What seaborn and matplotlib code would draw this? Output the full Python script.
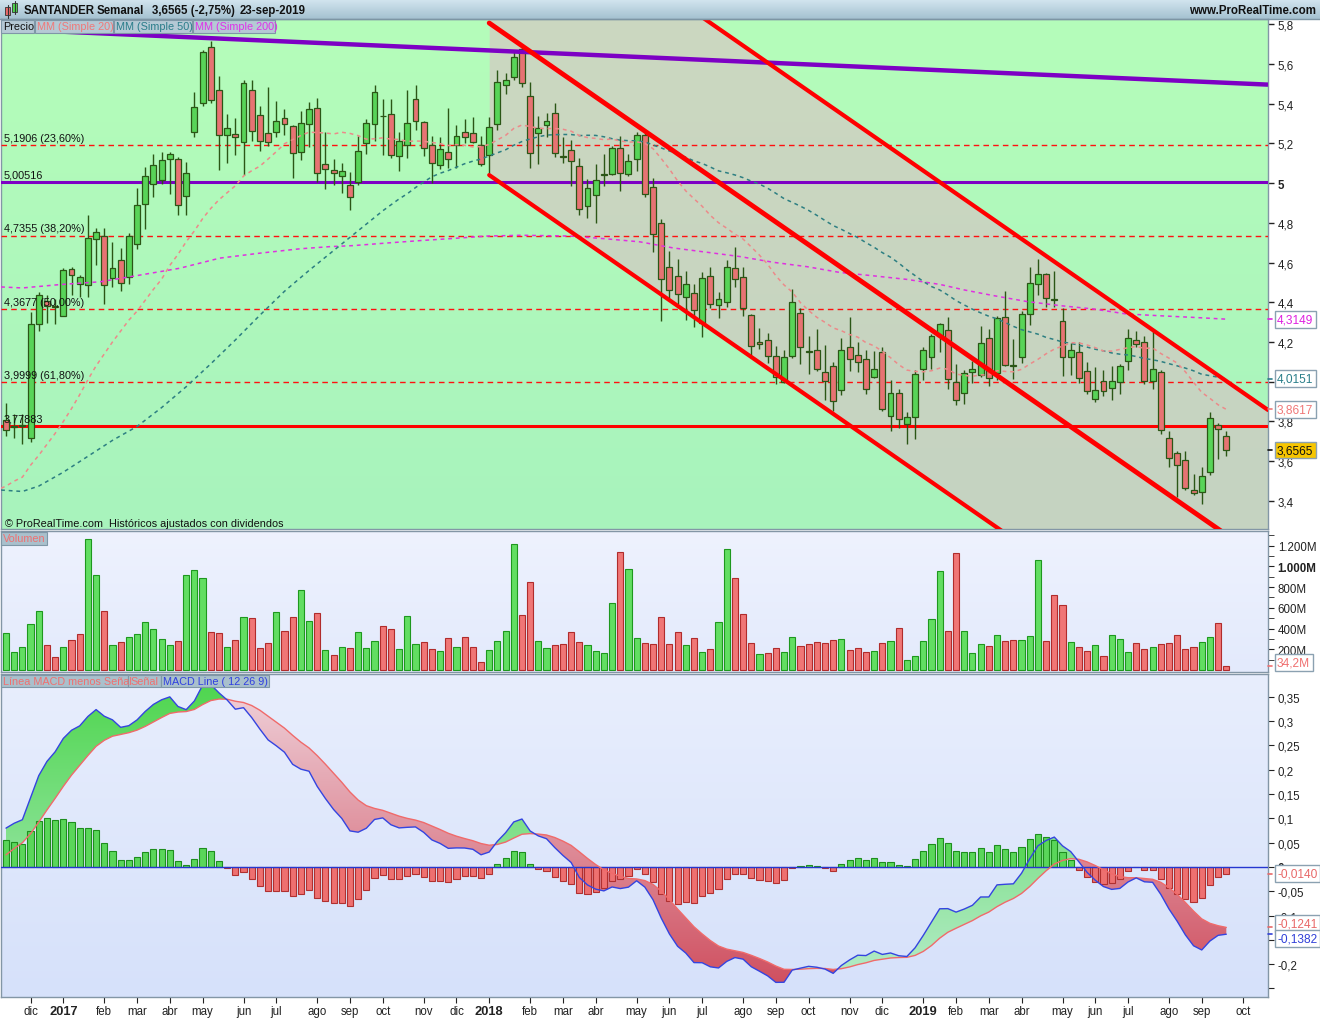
import numpy as np
import pandas as pd
import matplotlib
matplotlib.use("Agg")
import matplotlib.pyplot as plt
import matplotlib.transforms as mtransforms
from matplotlib.colors import LinearSegmentedColormap
from matplotlib.path import Path
from matplotlib.patches import Rectangle
from matplotlib.lines import Line2D
import seaborn as sns

sns.set_style("white")
plt.rcParams["font.family"] = ["Liberation Sans", "DejaVu Sans"]

# ------------------------------------------------------------------ data
first_week = "2016-11-14"
opens = [3.808,3.770,3.775,3.719,4.290,4.405,4.378,4.332,4.566,4.492,
 4.489,4.719,4.733,4.520,4.612,4.528,4.695,4.894,4.996,5.013,
 5.121,5.121,4.933,5.257,5.402,5.683,5.468,5.242,5.247,5.204,
 5.468,5.342,5.252,5.257,5.327,5.286,5.155,5.296,5.378,5.095,
 5.065,5.034,4.991,5.005,5.201,5.296,5.337,5.347,5.136,5.191,
 5.422,5.306,5.191,5.090,5.155,5.191,5.257,5.252,5.191,5.141,
 5.296,5.494,5.533,5.673,5.437,5.252,5.291,5.352,5.133,5.165,
 5.085,4.884,4.939,5.040,5.044,5.175,5.044,5.121,5.242,4.979,
 4.797,4.576,4.532,4.428,4.445,4.298,4.532,4.385,4.400,4.571,
 4.526,4.336,4.199,4.208,4.128,4.000,4.128,4.344,4.155,4.159,
 4.051,4.077,3.961,4.174,4.133,4.113,4.022,4.148,3.830,3.941,
 3.787,3.821,4.063,4.123,4.230,4.259,3.997,3.941,4.048,4.034,
 4.218,4.043,4.324,4.085,4.123,4.339,4.491,4.540,4.412,4.308,
 4.123,4.152,4.055,3.915,4.002,3.971,3.997,4.102,4.208,4.198,
 4.002,4.051,3.719,3.644,3.608,3.455,3.447,3.544,3.784,3.728]
highs = [3.893,3.838,3.838,4.349,4.451,4.434,4.417,4.571,4.576,4.537,
 4.840,4.775,4.772,4.704,4.673,4.750,4.976,5.082,5.146,5.158,
 5.158,5.133,5.107,5.456,5.668,5.712,5.538,5.349,5.325,5.516,
 5.516,5.388,5.483,5.414,5.374,5.294,5.363,5.409,5.429,5.255,
 5.121,5.099,5.056,5.235,5.323,5.494,5.422,5.422,5.257,5.470,
 5.494,5.311,5.235,5.231,5.378,5.293,5.323,5.334,5.238,5.334,
 5.570,5.555,5.664,5.695,5.507,5.337,5.354,5.402,5.231,5.218,
 5.124,5.022,5.094,5.145,5.184,5.238,5.146,5.255,5.260,5.025,
 4.818,4.656,4.618,4.557,4.494,4.550,4.576,4.451,4.612,4.676,
 4.576,4.341,4.269,4.247,4.179,4.159,4.465,4.370,4.230,4.264,
 4.184,4.097,4.218,4.324,4.199,4.159,4.154,4.174,4.009,3.966,
 3.847,4.060,4.176,4.239,4.298,4.324,4.089,4.060,4.102,4.278,
 4.264,4.332,4.455,4.213,4.358,4.576,4.617,4.545,4.557,4.370,
 4.193,4.199,4.097,4.073,4.060,4.080,4.091,4.264,4.256,4.230,
 4.261,4.060,3.750,3.651,3.651,3.535,3.571,3.847,3.790,3.750]
lows = [3.728,3.719,3.685,3.699,4.256,4.295,4.290,4.330,4.434,4.426,
 4.426,4.588,4.392,4.477,4.455,4.494,4.670,4.767,4.928,4.996,
 4.945,4.838,4.838,5.231,5.388,5.402,5.065,5.099,5.141,5.039,
 5.213,5.162,5.184,5.231,5.243,5.027,5.116,5.180,5.005,4.968,
 4.988,4.949,4.864,4.988,5.146,5.209,5.141,5.124,5.058,5.124,
 5.269,5.138,5.000,5.068,5.073,5.073,5.201,5.201,5.085,5.048,
 5.269,5.448,5.516,5.482,5.078,5.094,5.231,5.133,5.099,4.985,
 4.838,4.823,4.797,4.985,5.040,4.959,5.034,5.058,4.928,4.652,
 4.307,4.421,4.392,4.312,4.273,4.227,4.370,4.322,4.375,4.477,
 4.332,4.131,4.167,4.094,3.987,3.995,4.119,4.091,4.038,4.055,
 3.907,3.852,3.932,4.056,4.051,3.936,4.017,3.852,3.750,3.765,
 3.685,3.714,4.009,4.063,4.148,3.966,3.884,3.889,3.992,4.026,
 3.978,4.009,4.077,4.014,4.094,4.288,4.434,4.375,4.375,4.029,
 4.034,3.995,3.937,3.898,3.927,3.907,3.937,4.060,4.174,3.987,
 3.966,3.736,3.569,3.421,3.455,3.430,3.384,3.532,3.613,3.625]
closes = [3.757,3.775,3.780,4.293,4.434,4.383,4.375,4.560,4.537,4.526,
 4.721,4.753,4.489,4.574,4.497,4.733,4.889,5.034,5.090,5.116,
 5.146,4.889,5.049,5.383,5.661,5.417,5.242,5.276,5.231,5.504,
 5.264,5.211,5.206,5.310,5.298,5.150,5.300,5.373,5.051,5.070,
 5.051,5.060,4.932,5.162,5.301,5.458,5.335,5.141,5.211,5.301,
 5.311,5.175,5.100,5.170,5.121,5.237,5.231,5.206,5.095,5.281,
 5.507,5.518,5.633,5.504,5.150,5.276,5.311,5.150,5.130,5.111,
 4.869,4.974,5.013,5.046,5.175,5.049,5.111,5.242,4.945,4.741,
 4.516,4.460,4.443,4.494,4.360,4.521,4.390,4.414,4.576,4.516,
 4.370,4.179,4.188,4.128,4.022,4.123,4.400,4.174,4.152,4.063,
 4.004,3.901,4.159,4.114,4.097,3.966,4.063,3.861,3.941,3.815,
 3.825,4.038,4.159,4.230,4.290,4.012,3.907,4.043,4.065,4.193,
 4.017,4.319,4.085,4.080,4.339,4.496,4.540,4.422,4.410,4.123,
 4.159,4.017,3.952,3.961,3.952,4.002,4.077,4.218,4.188,4.002,
 4.063,3.758,3.617,3.583,3.464,3.438,3.527,3.818,3.762,3.6565]
volumes_m = [354,170,219,440,566,238,122,219,286,344,
 1260,913,566,238,267,315,344,460,392,296,
 238,277,913,961,884,363,354,219,286,508,
 498,209,257,556,373,508,768,469,547,190,
 141,219,209,363,209,277,421,392,199,518,
 248,267,199,180,305,219,315,219,74,190,
 277,373,1212,527,846,277,209,238,248,363,
 267,238,180,161,643,1135,971,305,257,248,
 508,248,363,238,305,170,199,460,1164,884,
 537,257,151,161,209,170,315,228,248,267,
 257,286,296,190,209,170,180,257,277,402,
 93,132,277,489,952,373,1125,373,161,248,
 228,334,277,286,286,325,1058,277,720,624,
 267,219,180,238,132,334,296,170,257,199,
 219,248,257,334,199,219,267,315,450,34.2]

ma20_early_idx = [-0.6,0,1,2,3,4,5,6,7,8,9,10,11,12,13,14,15,16,17,18]
ma20_early_val = [3.464,3.475,3.50,3.52,3.58,3.63,3.685,3.74,3.80,3.865,3.935,
                  4.01,4.08,4.14,4.20,4.255,4.31,4.355,4.41,4.465]
ma50_early_idx = [-0.6,2,4,7,10,13,16,19,22,25,28,31,34,37,40,43,46,48]
ma50_early_val = [3.455,3.448,3.475,3.545,3.625,3.705,3.775,3.87,3.975,4.09,
                  4.21,4.335,4.455,4.56,4.66,4.76,4.86,4.92]
ma200_idx = [-0.6,2,6.6,11.5,16.4,21.2,26.1,31,35.9,39.6,42.4,46.5,50.5,54.6,58.7,
             63,68.9,73,77.4,81.5,85.5,89.6,93.7,97.8,101.8,105.9,110,114,117,
             120.5,124.6,128.7,132.8,136.8,140.9,144.9,149]
ma200_val = [4.477,4.472,4.489,4.503,4.537,4.571,4.622,4.647,4.669,4.680,4.685,
             4.698,4.710,4.721,4.733,4.737,4.733,4.72,4.704,4.673,4.652,4.630,
             4.601,4.579,4.550,4.533,4.515,4.49,4.462,4.434,4.404,4.383,4.366,
             4.341,4.332,4.324,4.3149]
macd_seed_ema12, macd_seed_ema26, macd_seed_signal = 3.575, 3.495, 0.025

fib_levels = [5.1906, 4.7355, 4.3677, 3.9999]
fib_labels = ["5,1906 (23,60%)", "4,7355 (38,20%)", "4,3677 (50,00%)", "3,9999 (61,80%)"]
resist_level, resist_label = 5.00516, "5,00516"
support_level, support_label = 3.77883, "3,77883"
trend_x, trend_y = [-0.61, 154.09], [5.775, 5.495]
chan_x = [59, 154.09]
chan_lower = [5.040, 2.320]
chan_mid = [5.805, 3.085]
chan_upper = [6.578, 3.858]

price_ticks = [3.4,3.6,3.8,4.0,4.2,4.4,4.6,4.8,5.0,5.2,5.4,5.6,5.8]
price_tick_labels = ["3,4","3,6","3,8","","4,2","4,4","4,6","4,8","5","5,2","5,4","5,6","5,8"]
vol_ticks = [200,400,600,800,1000,1200]
vol_tick_labels = ["200M","400M","600M","800M","1.000M","1.200M"]
macd_ticks = [-0.25,-0.2,-0.15,-0.1,-0.05,0,0.05,0.1,0.15,0.2,0.25,0.3,0.35]
macd_tick_labels = ["","-0,2","","-0,1","-0,05","0","0,05","0,1","0,15","0,2","0,25","0,3","0,35"]
month_names = ["ene","feb","mar","abr","may","jun","jul","ago","sep","oct","nov","dic"]

price_boxes = [(4.3149, "4,3149", "#e020e0", "white"),
               (4.0151, "4,0151", "#2a7f8a", "white"),
               (3.8617, "3,8617", "#f07878", "white"),
               (3.6565, "3,6565", "#111111", "#f7c600")]
macd_boxes = [(-0.0140, "-0,0140", "#e86868", 0),
              (-0.1241, "-0,1241", "#e86868", 3),
              (-0.1382, "-0,1382", "#3040d8", -3)]
vol_box = (34.2, "34,2M")

# ------------------------------------------------------------ derived
O = np.array(opens); Hh = np.array(highs); L = np.array(lows); C = np.array(closes)
V = np.array(volumes_m)
n = len(C)
idx = np.arange(n)
dates = pd.date_range(first_week, periods=n, freq="W-MON")
df = pd.DataFrame({"i": idx, "date": dates, "open": O, "high": Hh, "low": L,
                   "close": C, "volume": V})

ma20 = df["close"].rolling(20).mean().to_numpy()
ma50 = df["close"].rolling(50).mean().to_numpy()
ma20_x = np.r_[ma20_early_idx, idx[19:]]
ma20_y = np.r_[ma20_early_val, ma20[19:]]
ma50_x = np.r_[ma50_early_idx, idx[49:]]
ma50_y = np.r_[ma50_early_val, ma50[49:]]


def ema(x, span, seed):
    a = 2.0 / (span + 1)
    out = np.empty(len(x))
    out[0] = seed
    for k in range(1, len(x)):
        out[k] = a * x[k] + (1 - a) * out[k - 1]
    return out


macd = ema(C, 12, macd_seed_ema12) - ema(C, 26, macd_seed_ema26)
signal = ema(macd, 9, macd_seed_signal)
hist = macd - signal
vol_up = np.r_[True, C[1:] >= C[:-1]]

# ------------------------------------------------------------ figure
W, H = 1320, 1020
fig = plt.figure(figsize=(W / 100, H / 100), dpi=100)
fig.patch.set_facecolor("white")


def frect(x0, y0, x1, y1):
    return [x0 / W, 1 - y1 / H, (x1 - x0) / W, (y1 - y0) / H]


def fx(x):
    return x / W


def fy(y):
    return 1 - y / H


def vgrad(ax, top, bottom, z=-20):
    cmap = LinearSegmentedColormap.from_list("g", [bottom, top])
    ax.imshow(np.linspace(0, 1, 200).reshape(-1, 1), cmap=cmap, aspect="auto",
              extent=(0, 1, 0, 1), origin="lower", transform=ax.transAxes,
              zorder=z, interpolation="bilinear")


XL = (-0.6105, 154.09)
SPINE = "#8396a6"

ax_h = fig.add_axes(frect(0, 0, 1320, 20))
ax_p = fig.add_axes(frect(1, 20, 1268, 530))
ax_v = fig.add_axes(frect(1, 532, 1268, 673))
ax_m = fig.add_axes(frect(1, 675, 1268, 998))

# header
vgrad(ax_h, "#d4e6f0", "#a4c1d0")
ax_h.set_xlim(0, 1); ax_h.set_ylim(0, 1)
ax_h.set_axis_off()
fig.add_artist(Line2D([0, 1], [fy(20), fy(20)], transform=fig.transFigure, color="#7d95a4", lw=1))
fig.add_artist(Line2D([fx(7.5), fx(7.5)], [fy(19), fy(6)], transform=fig.transFigure, color="#333", lw=0.8))
fig.add_artist(Rectangle((fx(5), fy(16)), 5 / W, 8 / H, transform=fig.transFigure, fc="#e86868", ec="#333", lw=0.6))
fig.add_artist(Line2D([fx(14.5), fx(14.5)], [fy(15), fy(2)], transform=fig.transFigure, color="#333", lw=0.8))
fig.add_artist(Rectangle((fx(12), fy(13)), 5 / W, 9 / H, transform=fig.transFigure, fc="#4cd44c", ec="#333", lw=0.6))
hdr = dict(fontsize=8.3, fontweight="bold", va="center", color="#111111")
fig.text(fx(24), fy(11), "SANTANDER", **hdr)
fig.text(fx(97), fy(11), "Semanal", **hdr)
fig.text(fx(152), fy(11), "3,6565 (-2,75%)", **hdr)
fig.text(fx(240), fy(11), "23-sep-2019", **hdr)
fig.text(fx(1316), fy(11), "www.ProRealTime.com", ha="right", **hdr)

# ------------------------------------------------------------ price panel
vgrad(ax_p, "#b5fdba", "#a8f3bd")
xs = np.linspace(chan_x[0], chan_x[1], 400)
ax_p.fill_between(xs, np.interp(xs, chan_x, chan_lower), np.interp(xs, chan_x, chan_upper),
                  color="#e2b4c6", alpha=0.5, lw=0, zorder=-5)

for lvl in fib_levels:
    ax_p.axhline(lvl, color="#ff1010", lw=1, ls=(0, (4, 3)), zorder=3)
ax_p.axhline(resist_level, color="#7d00c4", lw=2.2, zorder=3)
ax_p.axhline(support_level, color="#ff0000", lw=2.2, zorder=3)

trans_p = mtransforms.blended_transform_factory(ax_p.transAxes, ax_p.transData)
for lvl, lab in list(zip(fib_levels, fib_labels)) + [(resist_level, resist_label), (support_level, support_label)]:
    ax_p.annotate(lab, xy=(0, lvl), xycoords=trans_p, xytext=(2, 1.5), textcoords="offset points",
                  fontsize=7.8, color="#111111", va="bottom", ha="left", zorder=12)

# candles
edge = "#2b5616"
up = C >= O
body_lo = np.minimum(O, C)
body_h = np.maximum(np.abs(C - O), 0.004)
ax_p.vlines(idx, L, Hh, color=edge, lw=1, zorder=6)
ax_p.bar(idx, body_h, bottom=body_lo, width=0.72,
         color=np.where(up, "#58d458", "#e77373"), edgecolor=edge, lw=0.9, zorder=7)

# moving averages
for xx, yy, col in [(ma200_idx, ma200_val, "#e030e0"), (ma50_x, ma50_y, "#2d7f82"), (ma20_x, ma20_y, "#ec8a8a")]:
    sns.lineplot(x=np.asarray(xx, float), y=np.asarray(yy, float), ax=ax_p, color=col,
                 lw=1.1, legend=False, sort=False, estimator=None, zorder=9)
    ax_p.lines[-1].set_dashes([2.5, 2.5])

# trend / channel lines
ax_p.plot(trend_x, trend_y, color="#7d00c4", lw=3.2, zorder=10, solid_capstyle="butt")
ax_p.plot(chan_x, chan_lower, color="#ff0000", lw=3, zorder=10)
ax_p.plot(chan_x, chan_mid, color="#ff0000", lw=3.5, zorder=10)
ax_p.plot(chan_x, chan_upper, color="#ff0000", lw=3, zorder=10)

ax_p.set_xlim(*XL)
ax_p.set_ylim(3.2591, 5.8252)
ax_p.yaxis.tick_right()
ax_p.set_yticks(price_ticks, labels=price_tick_labels)
ax_p.tick_params(axis="y", which="both", right=True, left=False, direction="out", length=4,
                 width=1, pad=3, labelsize=8.3, colors="#222222")
ax_p.tick_params(axis="x", bottom=False, labelbottom=False)
for lbl in ax_p.get_yticklabels():
    if lbl.get_text() == "5":
        lbl.set_fontweight("bold")
ax_p.text(0.003, 3.29, "\u00a9 ProRealTime.com  Históricos ajustados con dividendos",
          transform=trans_p, fontsize=7.8, color="#111111", va="center", zorder=12)


def value_box(ax, y, text, color, fc="white", dy=0):
    tr = mtransforms.blended_transform_factory(ax.transAxes, ax.transData)
    ax.plot([1.0, 1.0 + 4 / 1267], [y, y], transform=tr, color=color, lw=1.2, clip_on=False, zorder=19)
    ax.annotate(text, xy=(1.0, y), xycoords=tr, xytext=(6.5, dy), textcoords="offset points",
                va="center", ha="left", fontsize=8.6, color=color, annotation_clip=False,
                bbox=dict(boxstyle="square,pad=0.2", fc=fc, ec="#8ba1b1", lw=1), zorder=20)


for y, t, c, fc in price_boxes:
    value_box(ax_p, y, t, c, fc)


def lbox(x0, x1, y0, y1, text, color, fc="#b5c9d5"):
    fig.add_artist(Rectangle((fx(x0), fy(y1)), (x1 - x0) / W, (y1 - y0) / H,
                             transform=fig.transFigure, fc=fc, ec="#7f97a7", lw=0.8, zorder=30))
    fig.text(fx(x0 + 2), fy((y0 + y1) / 2), text, fontsize=7.8, color=color, va="center",
             ha="left", zorder=31)


lbox(1, 34, 21, 34, "Precio", "#111111")
lbox(35, 113, 21, 34, "MM (Simple 20)", "#f07878")
lbox(114, 192, 21, 34, "MM (Simple 50)", "#2a7d8a")
lbox(193, 275, 21, 34, "MM (Simple 200)", "#e030e8")

# ------------------------------------------------------------ volume panel
vgrad(ax_v, "#eef2fe", "#e3eafc")
ax_v.bar(idx, V, width=0.75, color=np.where(vol_up, "#62de62", "#f07676"),
         edgecolor=np.where(vol_up, "#1e981e", "#b02c2c"), lw=0.8, zorder=3)
ax_v.set_xlim(*XL)
ax_v.set_ylim(-19.3, 1341.7)
ax_v.yaxis.tick_right()
ax_v.set_yticks(vol_ticks, labels=vol_tick_labels)
ax_v.set_yticks([100, 300, 500, 700, 900, 1100, 1300], minor=True)
ax_v.tick_params(axis="y", which="both", right=True, left=False, direction="out", length=4,
                 pad=3, labelsize=8.3, colors="#222222")
ax_v.tick_params(axis="x", bottom=False, labelbottom=False)
for lbl in ax_v.get_yticklabels():
    if lbl.get_text() == "1.000M":
        lbl.set_fontweight("bold")
value_box(ax_v, vol_box[0], vol_box[1], "#f07070", dy=3)
lbox(1, 47, 533, 546, "Volumen", "#f07070", fc="#a9c0cc")

# ------------------------------------------------------------ MACD panel
vgrad(ax_m, "#e8eefd", "#d6e1fa")


def grad_fill(ax, x, y1, y2, where, c_low, c_high, vlo, vhi, z):
    coll = ax.fill_between(x, y1, y2, where=where, interpolate=True, facecolor="none", edgecolor="none")
    paths = [p for p in coll.get_paths() if len(p.vertices) > 2]
    coll.remove()
    if not paths:
        return
    comp = Path.make_compound_path(*paths)
    cmap = LinearSegmentedColormap.from_list("f", [c_low, c_high])
    im = ax.imshow(np.linspace(0, 1, 256).reshape(-1, 1), cmap=cmap, aspect="auto", origin="lower",
                   extent=(x[0], x[-1], vlo, vhi), zorder=z, interpolation="bilinear")
    im.set_clip_path(comp, transform=ax.transData)


grad_fill(ax_m, idx.astype(float), macd, signal, macd >= signal, "#b2ebc6", "#50d650", -0.22, 0.37, 1)
grad_fill(ax_m, idx.astype(float), macd, signal, macd <= signal, "#cf4e5e", "#eecdd6", -0.25, 0.35, 1)

ax_m.bar(idx, hist, width=0.75, color=np.where(hist >= 0, "#5ad65a", "#ee7070"),
         edgecolor=np.where(hist >= 0, "#1e8e1e", "#b03030"), lw=0.8, zorder=2)
ax_m.axhline(0, color="#2536d0", lw=1, zorder=3)
sns.lineplot(x=idx, y=signal, ax=ax_m, color="#f06a6a", lw=1, legend=False, zorder=4)
sns.lineplot(x=idx, y=macd, ax=ax_m, color="#3444e0", lw=1, legend=False, zorder=5)

ax_m.set_xlim(*XL)
ax_m.set_ylim(-0.2675, 0.3971)
ax_m.yaxis.tick_right()
ax_m.set_yticks(macd_ticks, labels=macd_tick_labels)
ax_m.tick_params(axis="y", which="both", right=True, left=False, direction="out", length=4,
                 pad=3, labelsize=8.3, colors="#222222")
for lbl in ax_m.get_yticklabels():
    if lbl.get_text() == "0":
        lbl.set_fontweight("bold")
for y, t, c, d in macd_boxes:
    value_box(ax_m, y, t, c, dy=d)

lbox(1, 128, 676, 688, "Línea MACD menos Señal", "#f07070", fc="#a9c0cc")
lbox(128, 161, 676, 688, "Señal", "#f07070", fc="#a9c0cc")
lbox(161, 269, 676, 688, "MACD Line ( 12 26 9)", "#3040e0", fc="#a9c0cc")

# month ticks (first weekly bar of each month)
months = pd.date_range("2016-12-01", "2019-10-01", freq="MS")
tick_pos, tick_lab = [], []
for m in months:
    fm = m + pd.Timedelta(days=(7 - m.weekday()) % 7)
    tick_pos.append((fm - dates[0]).days / 7.0)
    tick_lab.append(str(m.year) if m.month == 1 else month_names[m.month - 1])
ax_m.set_xticks(tick_pos, labels=tick_lab)
ax_m.tick_params(axis="x", bottom=True, direction="out", length=4, pad=2, labelsize=8.3, colors="#222222")
for lbl in ax_m.get_xticklabels():
    if lbl.get_text().isdigit():
        lbl.set_fontweight("bold")
        lbl.set_fontsize(9.3)

for ax in (ax_p, ax_v, ax_m):
    for s in ax.spines.values():
        s.set_color(SPINE)
        s.set_linewidth(1)
    ax.set_xlabel("")
    ax.set_ylabel("")

fig.savefig("out.png", dpi=100, facecolor="white")
